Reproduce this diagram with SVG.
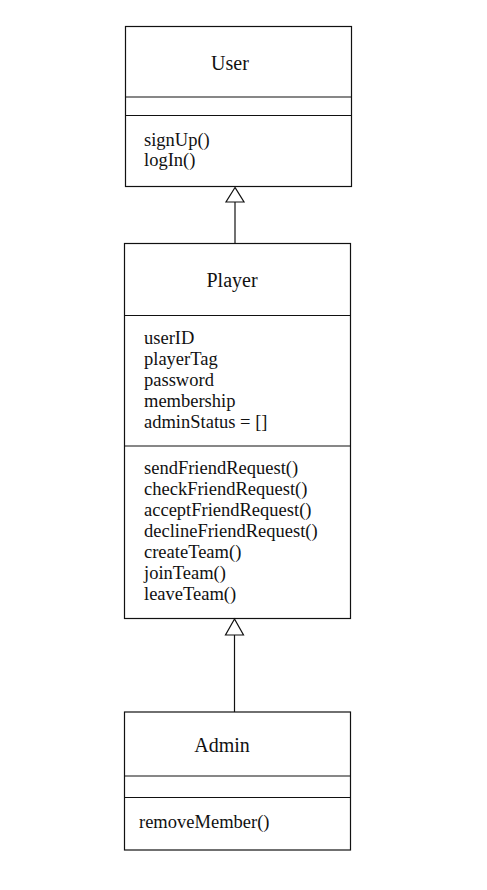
<svg xmlns="http://www.w3.org/2000/svg" width="487" height="890" viewBox="0 0 487 890">
<style>
.box{fill:#fff;stroke:#111;stroke-width:1.2}
.ln{stroke:#111;stroke-width:1.2;fill:none}
.tri{fill:#fff;stroke:#111;stroke-width:1.2}
.t{font-family:"Liberation Serif","Times New Roman",serif;font-size:18.5px;fill:#111}
.h{font-family:"Liberation Serif","Times New Roman",serif;font-size:20px;fill:#111;text-anchor:middle}
</style>
<rect width="487" height="890" fill="#fff"/>
<g id="User">
<rect class="box" x="125.5" y="26.5" width="226" height="160"/>
<line class="ln" x1="125.5" y1="97" x2="351.5" y2="97"/>
<line class="ln" x1="125.5" y1="115.5" x2="351.5" y2="115.5"/>
<text class="h" x="230" y="70">User</text>
<text class="t" x="144" y="146">signUp()</text>
<text class="t" x="144" y="166">logIn()</text>
</g>
<g id="Player">
<rect class="box" x="124.5" y="243.5" width="226" height="375"/>
<line class="ln" x1="124.5" y1="315.5" x2="350.5" y2="315.5"/>
<line class="ln" x1="124.5" y1="446" x2="350.5" y2="446"/>
<text class="h" x="232" y="287">Player</text>
<text class="t" x="144" y="344">userID</text>
<text class="t" x="144" y="365">playerTag</text>
<text class="t" x="144" y="386">password</text>
<text class="t" x="144" y="407">membership</text>
<text class="t" x="144" y="428">adminStatus = []</text>
<text class="t" x="144" y="474">sendFriendRequest()</text>
<text class="t" x="144" y="495">checkFriendRequest()</text>
<text class="t" x="144" y="516">acceptFriendRequest()</text>
<text class="t" x="144" y="537">declineFriendRequest()</text>
<text class="t" x="144" y="558">createTeam()</text>
<text class="t" x="144" y="579">joinTeam()</text>
<text class="t" x="144" y="600">leaveTeam()</text>
</g>
<g id="Admin">
<rect class="box" x="124.5" y="712" width="226" height="138"/>
<line class="ln" x1="124.5" y1="776" x2="350.5" y2="776"/>
<line class="ln" x1="124.5" y1="797.5" x2="350.5" y2="797.5"/>
<text class="h" x="222" y="752">Admin</text>
<text class="t" x="139" y="828">removeMember()</text>
</g>
<g id="connectors">
<line class="ln" x1="235" y1="243.5" x2="235" y2="202"/>
<polygon class="tri" points="235,187.5 226,202 244,202"/>
<line class="ln" x1="234.5" y1="712" x2="234.5" y2="635"/>
<polygon class="tri" points="234.5,619 225.5,635 243.5,635"/>
</g>
</svg>
